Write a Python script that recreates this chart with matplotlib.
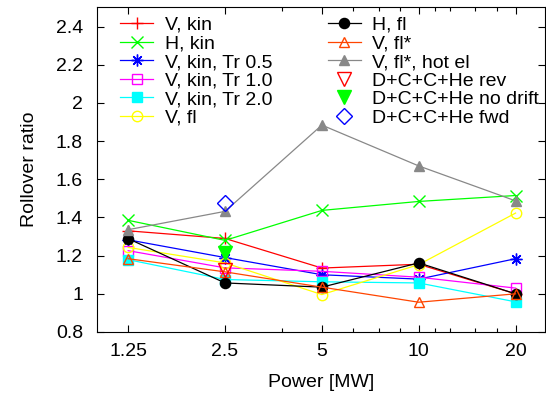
import matplotlib
matplotlib.use("Agg")
import matplotlib.pyplot as plt
from matplotlib.ticker import FixedLocator, NullFormatter

plt.rcParams['font.family'] = ['Liberation Sans', 'DejaVu Sans']
plt.rcParams['font.size'] = 14

power = [1.25, 2.5, 5, 10, 20]
power_labels = ['1.25', '2.5', '5', '10', '20']
minor_power = [3.75, 6.25, 7.5, 8.75, 11.25, 12.5, 15, 17.5]

v_kin = [1.33, 1.29, 1.135, 1.155, 1.00]
h_kin = [1.385, 1.28, 1.437, 1.484, 1.515]
v_kin_tr05 = [1.283, 1.19, 1.10, 1.077, 1.184]
v_kin_tr10 = [1.226, 1.136, 1.118, 1.087, 1.03]
v_kin_tr20 = [1.179, 1.075, 1.063, 1.057, 0.958]
v_fl = [1.243, 1.162, 0.996, 1.153, 1.423]
h_fl = [1.289, 1.057, 1.035, 1.162, 1.00]
v_flstar = [1.184, 1.115, 1.035, 0.956, 1.00]
v_flstar_hot = [1.336, 1.432, 1.884, 1.67, 1.487]

dccc_power = [2.5]
dccc_rev = [1.127]
dccc_nodrift = [1.214]
dccc_fwd = [1.475]

fig = plt.figure(figsize=(5.46, 3.94), dpi=100)
ax = fig.add_axes([97 / 546, 62 / 394, 447.5 / 546, 324.5 / 394])

lw = 0.9
ax.plot(power, v_kin, color='#ff0000', lw=lw, marker='+', ms=8.6, mew=1, label='V, kin')
ax.plot(power, h_kin, color='#00ff00', lw=lw, marker='x', ms=8.6, mew=1, label='H, kin')
ax.plot(power, v_kin_tr05, color='#0000ff', lw=lw, marker=(8, 2, 0), ms=8.5, mew=1, label='V, kin, Tr 0.5')
ax.plot(power, v_kin_tr10, color='#ff00ff', lw=lw, marker='s', ms=7.5, mfc='none', mew=1, label='V, kin, Tr 1.0')
ax.plot(power, v_kin_tr20, color='#00ffff', lw=lw, marker='s', ms=7.5, label='V, kin, Tr 2.0')
ax.plot(power, v_fl, color='#ffff00', lw=lw, marker='o', ms=7.5, mfc='none', mew=1, label='V, fl')
ax.plot(power, h_fl, color='black', lw=lw, marker='o', ms=7.3, label='H, fl')
ax.plot(power, v_flstar, color='#ff4500', lw=lw, marker='^', ms=7.3, mfc='none', mew=1, label='V, fl*')
ax.plot(power, v_flstar_hot, color='#888888', lw=lw, marker='^', ms=7, label='V, fl*, hot el')
ax.plot(dccc_power, dccc_rev, ls='none', color='#ff0000', marker='v', ms=9.4, mfc='none', mew=1,
        label='D+C+C+He rev')
ax.plot(dccc_power, dccc_nodrift, ls='none', color='#00ff00', marker='v', ms=9.6, label='D+C+C+He no drift')
ax.plot(dccc_power, dccc_fwd, ls='none', color='#0000ff', marker='D', ms=8.4, mfc='none', mew=1,
        label='D+C+C+He fwd')

ax.set_xscale('log')
ax.set_xlim(1.0, 24.6)
ax.set_ylim(0.8, 2.5)
ax.xaxis.set_major_locator(FixedLocator(power))
ax.set_xticklabels(power_labels)
ax.xaxis.set_minor_locator(FixedLocator(minor_power))
ax.xaxis.set_minor_formatter(NullFormatter())
ax.set_yticks([0.8, 1.0, 1.2, 1.4, 1.6, 1.8, 2.0, 2.2, 2.4])
ax.set_yticklabels(['0.8', '1', '1.2', '1.4', '1.6', '1.8', '2', '2.2', '2.4'])
ax.tick_params(which='both', direction='in', top=True, right=True)
ax.tick_params(which='major', length=5, width=0.8, pad=8)
ax.tick_params(which='minor', length=3, width=0.8)
ax.tick_params(axis='y', pad=10)

ax.set_xlabel('Power [MW]', labelpad=10)
ax.set_ylabel('Rollover ratio', labelpad=13)

ax.legend(ncol=2, loc='upper left', frameon=False, bbox_to_anchor=(0.032, 1.0),
          handlelength=1.7, handletextpad=0.6, columnspacing=2.85, labelspacing=0.05,
          borderaxespad=0.05)

fig.savefig('out.png', dpi=100)
